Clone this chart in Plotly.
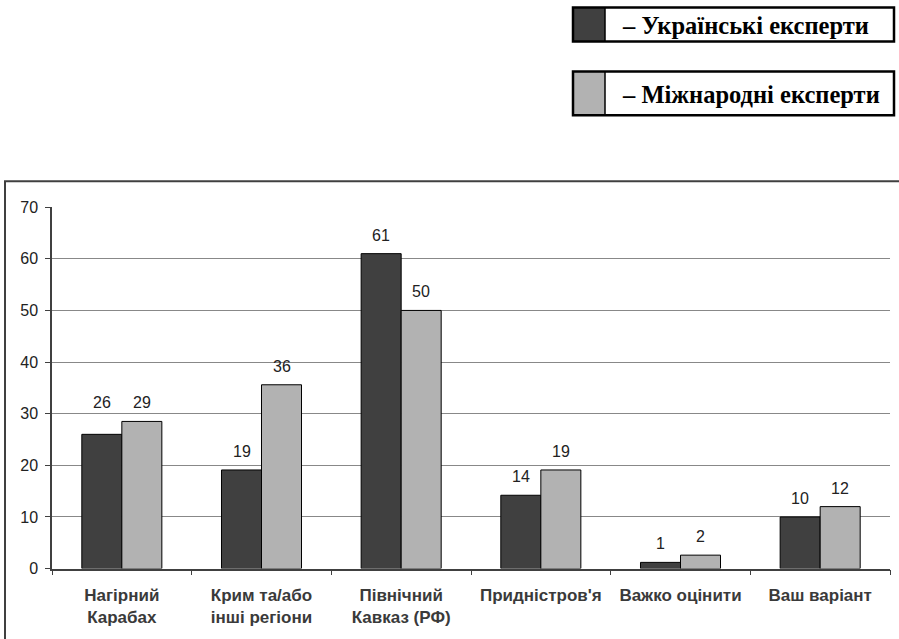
import plotly.graph_objects as go

categories = ["Нагірний<br>Карабах", "Крим та/або<br>інші регіони", "Північний<br>Кавказ (РФ)",
              "Придністров'я", "Важко оцінити", "Ваш варіант"]
ua_values = [26, 19.1, 61, 14.2, 1.2, 10]
intl_values = [28.5, 35.6, 50, 19.1, 2.6, 12]
ua_labels = ["26", "19", "61", "14", "1", "10"]
intl_labels = ["29", "36", "50", "19", "2", "12"]
ua_name = "– Українські експерти"
intl_name = "– Міжнародні експерти"
y_ticks = [0, 10, 20, 30, 40, 50, 60, 70]

W, H = 899, 639
# vertical compensation for the capture (observed y_out ≈ 0.975*y + 7.5)
VS, VO = 0.975, 7.5
def px(x): return x / W
def py(y): return 1 - ((y - VO) / VS) / H

DARK = "#404040"
LIGHT = "#b2b2b2"
SANS = "Liberation Sans, Arial"

fig = go.Figure()
fig.add_bar(x=categories, y=ua_values, marker=dict(color=DARK, line=dict(color="black", width=1)),
            name=ua_name, showlegend=False)
fig.add_bar(x=categories, y=intl_values, marker=dict(color=LIGHT, line=dict(color="black", width=1)),
            name=intl_name, showlegend=False)

annotations = []
for i, c in enumerate(categories):
    y_ua = ua_values[i]
    if i == 0:
        y_ua = max(ua_values[i], intl_values[i])
    annotations.append(dict(x=c, y=y_ua, xref="x", yref="y", text=ua_labels[i], showarrow=False,
                            xshift=-20, yshift=18.5, yanchor="middle",
                            font=dict(family=SANS, size=16, color="#222")))
    annotations.append(dict(x=c, y=intl_values[i], xref="x", yref="y", text=intl_labels[i], showarrow=False,
                            xshift=20, yshift=18.5, yanchor="middle",
                            font=dict(family=SANS, size=16, color="#222")))

# legend boxes
shapes = []
boxes = [(7, 41, DARK, ua_name), (71, 115, LIGHT, intl_name)]
for (y0, y1, col, name) in boxes:
    shapes.append(dict(type="rect", xref="paper", yref="paper", x0=px(573), x1=px(605), y0=py(y1), y1=py(y0),
                       fillcolor=col, line=dict(width=0), layer="above"))
    shapes.append(dict(type="rect", xref="paper", yref="paper", x0=px(573), x1=px(894), y0=py(y1), y1=py(y0),
                       fillcolor="rgba(0,0,0,0)", line=dict(color="black", width=2.5)))
    shapes.append(dict(type="line", xref="paper", yref="paper", x0=px(605), x1=px(605), y0=py(y1), y1=py(y0),
                       line=dict(color="black", width=1.5)))
    annotations.append(dict(x=px(620), y=py((y0 + y1) / 2 + 1), xref="paper", yref="paper", text="<b>" + name + "</b>",
                            showarrow=False, xanchor="left", yanchor="middle",
                            font=dict(family="Liberation Serif, Times New Roman", size=24.5, color="black")))

# outer chart border
shapes.append(dict(type="rect", xref="paper", yref="paper", x0=px(5), x1=px(910), y0=-0.05, y1=py(181),
                   line=dict(color="#404040", width=2), fillcolor="rgba(0,0,0,0)"))

fig.update_layout(
    width=W, height=H,
    margin=dict(l=0, r=0, t=0, b=0),
    paper_bgcolor="white", plot_bgcolor="white",
    barmode="group", bargap=0.427, bargroupgap=0,
    xaxis=dict(domain=[px(52), px(890)], tickson="boundaries", ticks="outside", ticklen=5,
               tickcolor="#404040", showline=True, linecolor="#404040", linewidth=1.5,
               tickfont=dict(family=SANS, size=17, color="#3a3a3a", weight="bold"),
               ticklabelstandoff=10, fixedrange=True),
    yaxis=dict(domain=[py(569), py(207)], range=[0, 70], tickvals=y_ticks, ticks="outside", ticklen=5,
               tickcolor="#404040", showline=True, linecolor="#404040", linewidth=1.5,
               showgrid=True, gridcolor="#888", gridwidth=1, zeroline=False,
               tickfont=dict(family=SANS, size=16, color="#222"),
               ticklabelstandoff=4),
    shapes=shapes, annotations=annotations,
    font=dict(family=SANS),
)

fig.write_html("out.html", config={"displayModeBar": False},
               post_script="document.body.style.margin='0';document.body.style.overflow='hidden';")
